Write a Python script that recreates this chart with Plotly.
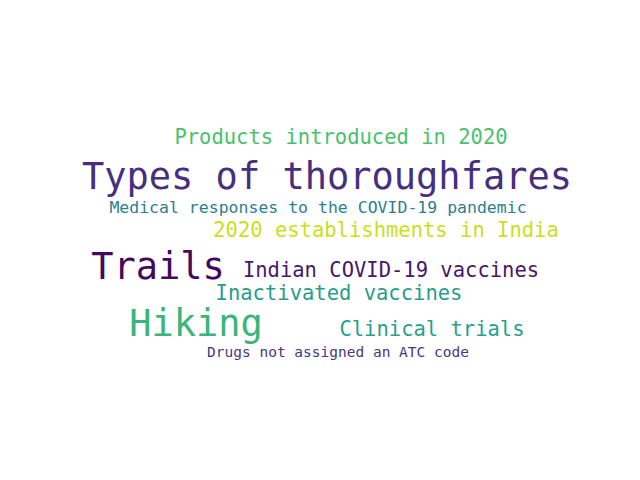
import plotly.graph_objects as go

# word cloud data
words = ["Products introduced in 2020", "Types of thoroughfares",
         "Medical responses to the COVID-19 pandemic", "2020 establishments in India",
         "Trails", "Indian COVID-19 vaccines", "Inactivated vaccines",
         "Hiking", "Clinical trials", "Drugs not assigned an ATC code"]
word_x = [333, 319, 310, 378, 150, 383, 331, 188, 424, 330]
word_y = [131, 172, 201, 224, 262, 264, 287, 319, 323, 345]
word_size = [20.5, 37, 16.5, 20.5, 37, 20.5, 20.5, 37, 20.5, 14.5]
word_color = ["#4ac16d", "#472f7d", "#2c7f8e", "#c8e020", "#46085c",
              "#481769", "#2a9d8a", "#3bb57a", "#25a18e", "#453781"]

fig = go.Figure()
fig.add_trace(go.Scatter(
    x=word_x, y=word_y, text=words, mode="text",
    textfont=dict(family="DejaVu Sans Mono", size=word_size, color=word_color),
    hoverinfo="text",
))

fig.update_layout(
    width=640, height=480,
    margin=dict(l=0, r=0, t=0, b=0),
    plot_bgcolor="white", paper_bgcolor="white",
    showlegend=False,
    xaxis=dict(range=[0, 640], visible=False),
    yaxis=dict(range=[480, 0], visible=False),
)
fig.write_html("out.html")
